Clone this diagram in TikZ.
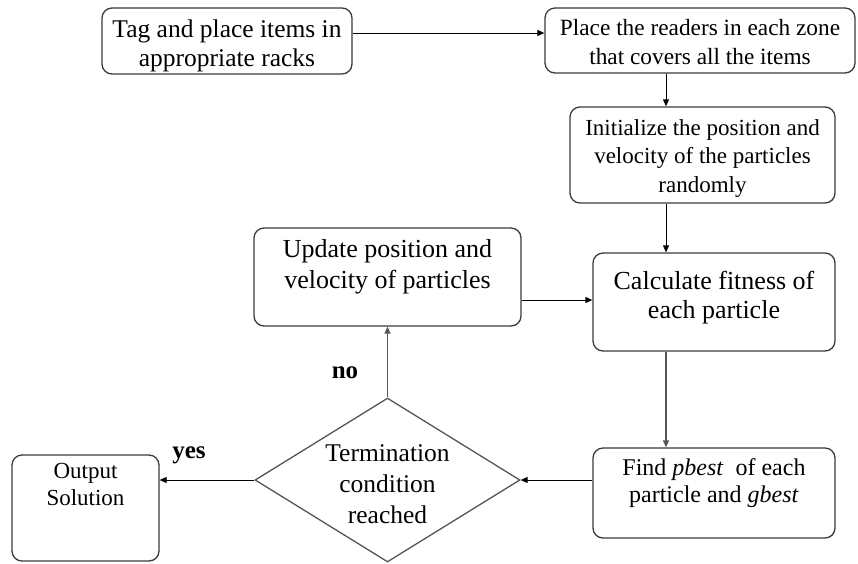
\documentclass[tikz,border=0pt]{standalone}
\usepackage{fontspec}
\setmainfont{Liberation Serif}
\usetikzlibrary{arrows.meta,shapes.geometric,calc}
\definecolor{boxgray}{HTML}{3A3A3A}
\definecolor{diagray}{HTML}{555555}
\tikzset{
  box/.style={draw=boxgray, line width=1.3pt, rounded corners=10pt, inner sep=0pt},
  txt/.style={align=center, inner sep=0pt},
  conn/.style={draw=black, line width=1pt, -{Triangle[length=7pt,width=6pt]}},
  gconn/.style={draw=diagray, line width=1.3pt, -{Triangle[length=7pt,width=6pt]}},
  lbl/.style={inner sep=0pt, font=\fontsize{25}{28}\selectfont\bfseries},
}
\begin{document}
\begin{tikzpicture}[x=1pt,y=-1pt]
\useasboundingbox (0,0) rectangle (858,563);
% boxes
\node[box, minimum width=250, minimum height=66] (b1) at (227,41) {};
\node[txt, font=\fontsize{25.5}{28.5}\selectfont] (b1t) at (227,46) {Tag and place items in\\appropriate racks};
\node[box, minimum width=310, minimum height=65] (b2) at (700,40.5) {};
\node[txt, font=\fontsize{23.3}{29}\selectfont] (b2t) at (700,42.5) {Place the readers in each zone\\that covers all the items};
\node[box, minimum width=265, minimum height=96] (b3) at (702.5,155) {};
\node[txt, font=\fontsize{23}{28.5}\selectfont] (b3t) at (702.5,158) {Initialize the position and\\velocity of the particles\\randomly};
\node[box, minimum width=267, minimum height=98] (upd) at (387.5,277) {};
\node[txt, font=\fontsize{26}{31}\selectfont] (updt) at (387.5,267) {Update position and\\velocity of particles};
\node[box, minimum width=242, minimum height=98] (calc) at (714,302) {};
\node[txt, font=\fontsize{26}{29}\selectfont] (calct) at (714,298) {Calculate fitness of\\each particle};
\node[box, minimum width=242, minimum height=90] (find) at (714,493) {};
\node[txt, font=\fontsize{24}{27}\selectfont] (findt) at (714,483.5) {Find \textit{pbest}\ \ of each\\particle and \textit{gbest}};
\node[box, minimum width=147, minimum height=106] (out) at (85.5,508) {};
\node[txt, font=\fontsize{23}{27}\selectfont] (outt) at (85.5,484) {Output\\Solution};
% diamond
\node[draw=diagray, line width=1.3pt, diamond, aspect=1.62, minimum width=265, minimum height=164, inner sep=0pt] (dia) at (387.5,480) {};
\node[txt, font=\fontsize{25.5}{31}\selectfont] (diat) at (387.5,484) {Termination\\condition\\reached};
% labels
\node[lbl] (yes) at (189,455) {yes};
\node[lbl] (no) at (345,373) {no};
% connectors
\coordinate (vx) at (666,0);
\draw[conn] ([yshift=8pt]b1.east) -- ([yshift=8pt]b1.east -| b2.west);
\draw[conn] (vx |- b2.south) -- (vx |- b3.north);
\draw[conn] (vx |- b3.south) -- (vx |- calc.north);
\draw[conn] ([yshift=-23pt]upd.east) -- ([yshift=-23pt]upd.east -| calc.west);
\draw[gconn] (vx |- calc.south) -- (vx |- find.north);
\draw[conn] (dia.east -| find.west) -- (dia.east);
\draw[conn] (dia.west) -- (dia.west -| out.east);
\draw[gconn] (dia.north) -- (dia.north |- upd.south);
\end{tikzpicture}
\end{document}
